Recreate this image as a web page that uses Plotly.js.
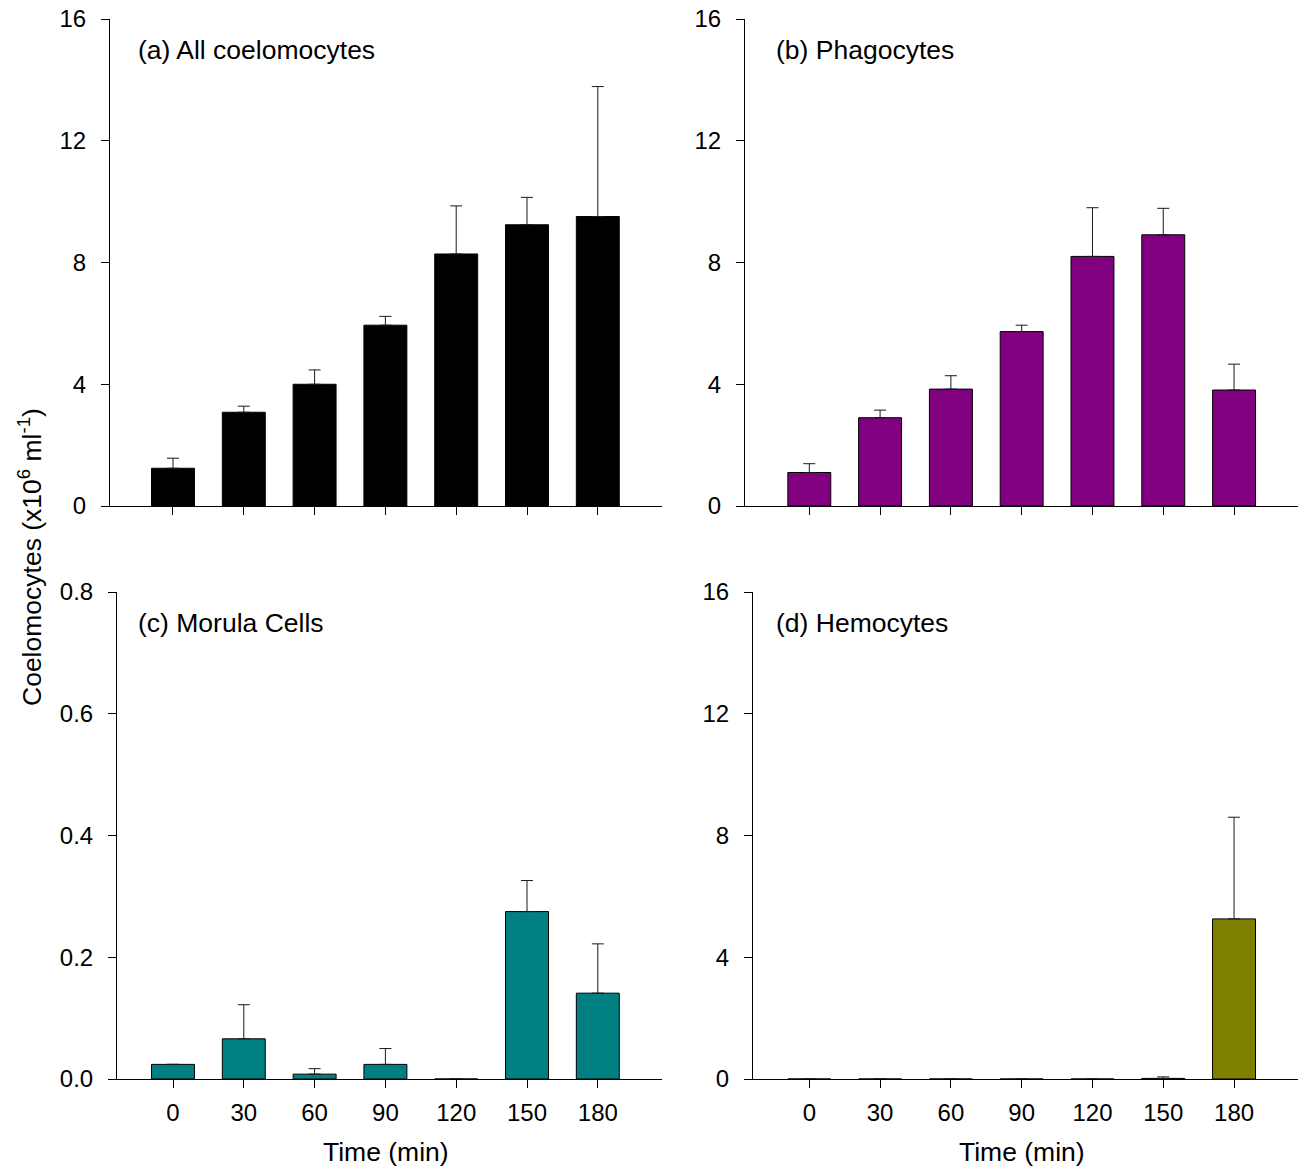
<!DOCTYPE html>
<html>
<head>
<meta charset="utf-8">
<script src="https://cdn.plot.ly/plotly-3.0.1.min.js"></script>
<style>html,body{margin:0;padding:0;background:#fff;}#chart{width:1306px;height:1166px;}</style>
</head>
<body>
<div id="chart"></div>
<script>
// ---- data ----
var times = [0, 30, 60, 90, 120, 150, 180];
var timeLabels = ['0', '30', '60', '90', '120', '150', '180'];

var allMean    = [1.24, 3.08, 4.00, 5.94, 8.28, 9.24, 9.51];
var allErr     = [0.33, 0.20, 0.47, 0.29, 1.58, 0.90, 4.27];

var phagoMean  = [1.10, 2.90, 3.84, 5.73, 8.20, 8.91, 3.81];
var phagoErr   = [0.29, 0.25, 0.44, 0.21, 1.60, 0.87, 0.85];

var morulaMean = [0.024, 0.066, 0.008, 0.024, 0, 0.275, 0.141];
var morulaErr  = [0, 0.056, 0.009, 0.026, 0, 0.051, 0.081];

var hemoMean   = [0, 0, 0, 0, 0, 0.02, 5.26];
var hemoErr    = [0, 0, 0, 0, 0, 0.05, 3.34];

var panelTitles = ['(a) All coelomocytes', '(b) Phagocytes', '(c) Morula Cells', '(d) Hemocytes'];
var yTitle = 'Coelomocytes (x10<sup>6</sup> ml<sup>-1</sup>)';
var xTitle = 'Time (min)';
var bigTicks = [0, 4, 8, 12, 16];
var smallTicks = [0, 0.2, 0.4, 0.6, 0.8];

// ---- styling ----
var W = 1306, H = 1166;
var FONT = 'Liberation Sans, Arial, Helvetica, sans-serif';
var colors = ['#000000', '#800080', '#008080', '#808000'];
var barWidth = 18.2;
var LABEL_SIZE = 26.5, TICK_SIZE = 24;

function px2x(p) { return p / W; }
function px2y(p) { return 1 - p / H; }

function barTrace(y, err, color, xa, ya) {
  var zeros = y.map(function () { return 0; });
  return {
    type: 'bar', x: times, y: y, width: barWidth,
    xaxis: xa, yaxis: ya,
    marker: { color: color, line: { color: '#000000', width: 1 } },
    error_y: { type: 'data', symmetric: false, array: err, arrayminus: zeros,
               color: '#1a1a1a', thickness: 1, width: 6 },
    hoverinfo: 'x+y', showlegend: false
  };
}

var data = [
  barTrace(allMean, allErr, colors[0], 'x', 'y'),
  barTrace(phagoMean, phagoErr, colors[1], 'x2', 'y2'),
  barTrace(morulaMean, morulaErr, colors[2], 'x3', 'y3'),
  barTrace(hemoMean, hemoErr, colors[3], 'x4', 'y4')
];

function xaxis(domainPx, range, anchor, labels) {
  return {
    domain: [px2x(domainPx[0]), px2x(domainPx[1])], range: range, anchor: anchor,
    showline: true, linecolor: '#000', linewidth: 1, showgrid: false, zeroline: false,
    ticks: 'outside', ticklen: 8, tickwidth: 1, tickcolor: '#000',
    tickmode: 'array', tickvals: times, ticktext: timeLabels,
    showticklabels: labels, ticklabelstandoff: 4,
    tickfont: { family: FONT, size: TICK_SIZE, color: '#000' }, fixedrange: true
  };
}
function yaxis(domainPx, range, anchor, ticks, fmt) {
  return {
    domain: [px2y(domainPx[1]), px2y(domainPx[0])], range: range, anchor: anchor,
    showline: true, linecolor: '#000', linewidth: 1, showgrid: false, zeroline: false,
    ticks: 'outside', ticklen: 8, tickwidth: 1, tickcolor: '#000',
    tickmode: 'array', tickvals: ticks, ticktext: ticks.map(function (v) { return fmt(v); }),
    ticklabelstandoff: 10,
    tickfont: { family: FONT, size: TICK_SIZE, color: '#000' }, fixedrange: true
  };
}
var fmtInt = function (v) { return String(v); };
var fmt1 = function (v) { return v.toFixed(1); };

function label(text, xpx, ypx, anchor, angle) {
  return { text: text, xref: 'paper', yref: 'paper', x: px2x(xpx), y: px2y(ypx),
           xanchor: anchor, yanchor: 'middle', textangle: angle || 0, showarrow: false,
           font: { family: FONT, size: LABEL_SIZE, color: '#000' } };
}

var layout = {
  width: W, height: H,
  margin: { l: 0, r: 0, t: 0, b: 0 },
  paper_bgcolor: '#fff', plot_bgcolor: '#fff',
  font: { family: FONT, color: '#000' },
  bargap: 0,
  xaxis:  xaxis([110, 662], [-26.69, 207.2], 'y', false),
  yaxis:  yaxis([19, 506], [0, 16], 'x', bigTicks, fmtInt),
  xaxis2: xaxis([745, 1298], [-27.25, 207.1], 'y2', false),
  yaxis2: yaxis([19, 506], [0, 16], 'x2', bigTicks, fmtInt),
  xaxis3: xaxis([117, 662], [-23.73, 207.2], 'y3', true),
  yaxis3: yaxis([592, 1079], [0, 0.8], 'x3', smallTicks, fmt1),
  xaxis4: xaxis([753, 1298], [-23.86, 207.1], 'y4', true),
  yaxis4: yaxis([592, 1079], [0, 16], 'x4', bigTicks, fmtInt),
  annotations: [
    label(panelTitles[0], 136, 50, 'left'),
    label(panelTitles[1], 774, 50, 'left'),
    label(panelTitles[2], 136, 623, 'left'),
    label(panelTitles[3], 774, 623, 'left'),
    label(yTitle, 30, 557, 'center', -90),
    label(xTitle, 386, 1152, 'center'),
    label(xTitle, 1022, 1152, 'center')
  ]
};

Plotly.newPlot('chart', data, layout, { displayModeBar: false, staticPlot: true });
</script>
</body>
</html>
